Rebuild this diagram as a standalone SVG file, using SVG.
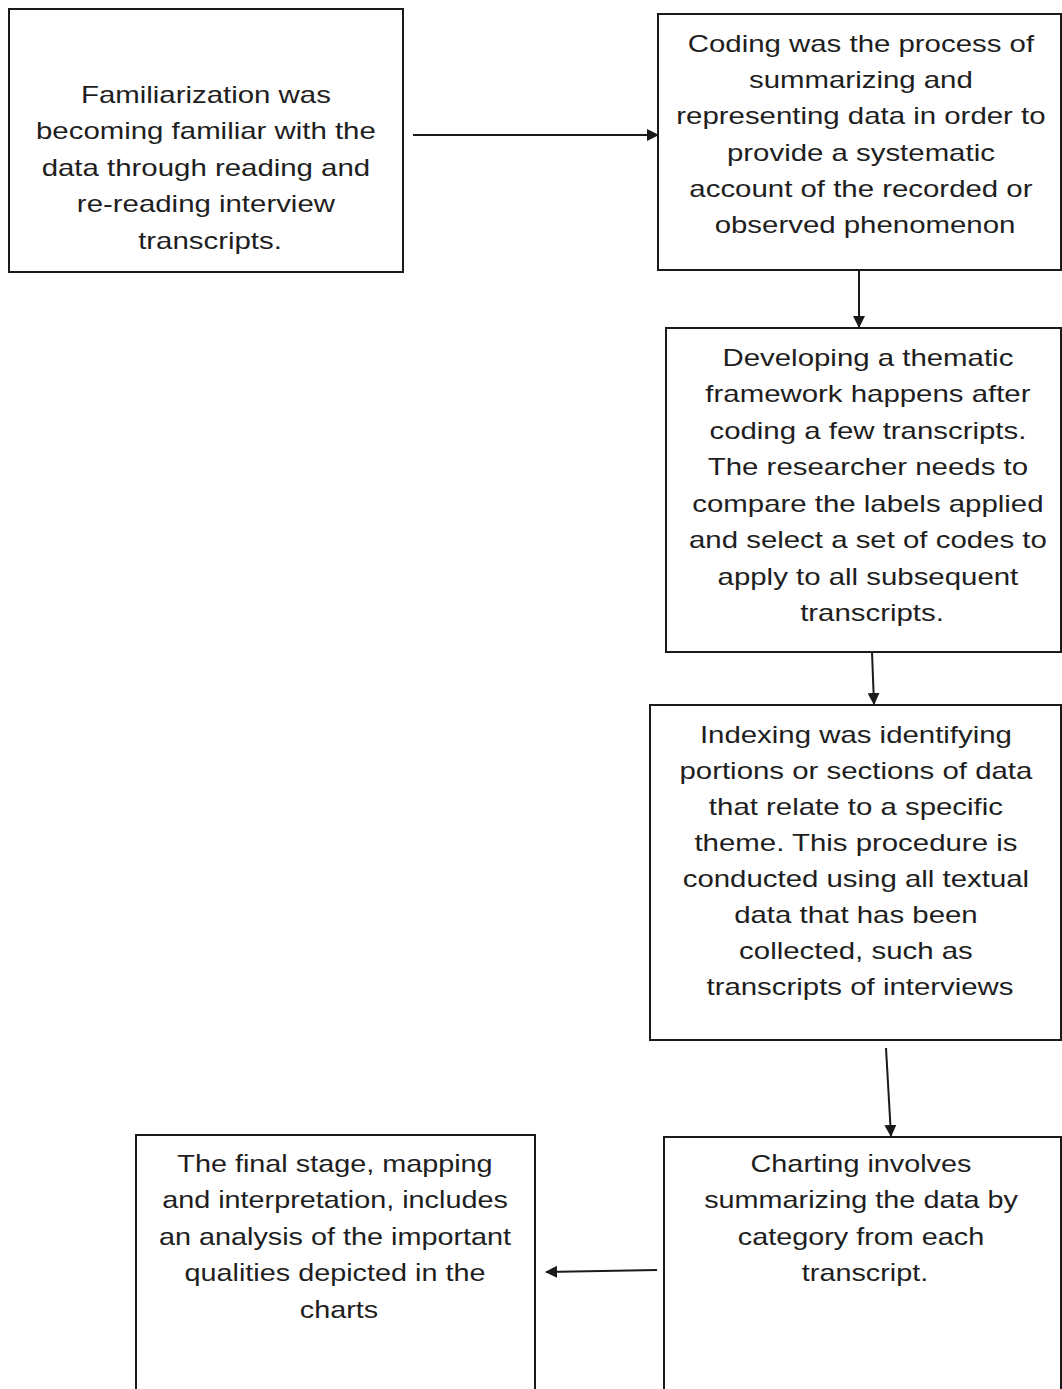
<svg xmlns="http://www.w3.org/2000/svg" width="1062" height="1389" viewBox="0 0 1062 1389">
<style>
.box{fill:#fff;stroke:#1a1a1a;stroke-width:2}
.lbl{font-family:"Liberation Sans",Arial,sans-serif;font-size:24px;fill:#1e1e1e;text-anchor:middle}
.edge{stroke:#1a1a1a;stroke-width:2;fill:none;marker-end:url(#ah)}
</style>
<defs>
<marker id="ah" markerUnits="userSpaceOnUse" markerWidth="12" markerHeight="12" refX="11" refY="6" orient="auto">
<path d="M0,0 L12,6 L0,12 z" fill="#1a1a1a"/>
</marker>
</defs>
<rect width="1062" height="1389" fill="#fff"/>
<g id="n1">
<rect class="box" x="9" y="9" width="394" height="263"/>
<text class="lbl" transform="translate(210 0) scale(1.225 1)">
<tspan x="0" y="103">Familiarization was</tspan>
<tspan x="0" y="139.5">becoming familiar with the</tspan>
<tspan x="0" y="176">data through reading and</tspan>
<tspan x="0" y="212.5">re-reading interview</tspan>
<tspan x="0" y="249">transcripts.</tspan>
</text>
</g>
<g id="n2">
<rect class="box" x="658" y="14" width="403" height="256"/>
<text class="lbl" transform="translate(865 0) scale(1.225 1)">
<tspan x="0" y="52">Coding was the process of</tspan>
<tspan x="0" y="88.2">summarizing and</tspan>
<tspan x="0" y="124.4">representing data in order to</tspan>
<tspan x="0" y="160.6">provide a systematic</tspan>
<tspan x="0" y="196.8">account of the recorded or</tspan>
<tspan x="0" y="233">observed phenomenon</tspan>
</text>
</g>
<g id="n3">
<rect class="box" x="666" y="328" width="395" height="324"/>
<text class="lbl" transform="translate(872 0) scale(1.225 1)">
<tspan x="0" y="366">Developing a thematic</tspan>
<tspan x="0" y="402.5">framework happens after</tspan>
<tspan x="0" y="439">coding a few transcripts.</tspan>
<tspan x="0" y="475.5">The researcher needs to</tspan>
<tspan x="0" y="512">compare the labels applied</tspan>
<tspan x="0" y="548.5">and select a set of codes to</tspan>
<tspan x="0" y="585">apply to all subsequent</tspan>
<tspan x="0" y="621.5">transcripts.</tspan>
</text>
</g>
<g id="n4">
<rect class="box" x="650" y="705" width="411" height="335"/>
<text class="lbl" transform="translate(860 0) scale(1.225 1)">
<tspan x="0" y="743">Indexing was identifying</tspan>
<tspan x="0" y="779">portions or sections of data</tspan>
<tspan x="0" y="815">that relate to a specific</tspan>
<tspan x="0" y="851">theme. This procedure is</tspan>
<tspan x="0" y="887">conducted using all textual</tspan>
<tspan x="0" y="923">data that has been</tspan>
<tspan x="0" y="959">collected, such as</tspan>
<tspan x="0" y="995">transcripts of interviews</tspan>
</text>
</g>
<g id="n5">
<rect class="box" x="664" y="1137" width="397" height="270"/>
<text class="lbl" transform="translate(865 0) scale(1.2 1)">
<tspan x="0" y="1172">Charting involves</tspan>
<tspan x="0" y="1208.5">summarizing the data by</tspan>
<tspan x="0" y="1245">category from each</tspan>
<tspan x="0" y="1281.5">transcript.</tspan>
</text>
</g>
<g id="n6">
<rect class="box" x="136" y="1135" width="399" height="270"/>
<text class="lbl" transform="translate(339 0) scale(1.2 1)">
<tspan x="0" y="1172">The final stage, mapping</tspan>
<tspan x="0" y="1208.5">and interpretation, includes</tspan>
<tspan x="0" y="1245">an analysis of the important</tspan>
<tspan x="0" y="1281.5">qualities depicted in the</tspan>
<tspan x="0" y="1318">charts</tspan>
</text>
</g>
<g id="connectors">
<line class="edge" x1="413" y1="135" x2="658" y2="135"/>
<line class="edge" x1="859" y1="270" x2="859" y2="327"/>
<line class="edge" x1="872" y1="652" x2="874" y2="704"/>
<line class="edge" x1="886" y1="1048" x2="891" y2="1136"/>
<line class="edge" x1="657" y1="1270" x2="546" y2="1272"/>
</g>
</svg>
